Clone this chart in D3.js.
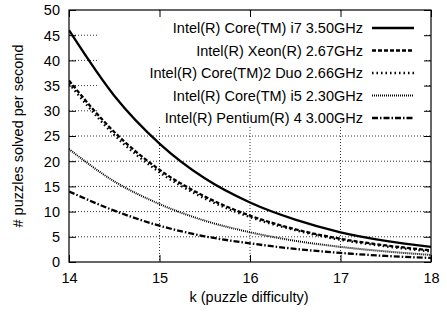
<!DOCTYPE html>
<html>
<head>
<meta charset="utf-8">
<script src="https://cdn.jsdelivr.net/npm/d3@7"></script>
<style>
  html, body { margin: 0; padding: 0; background: #fff; }
  svg { display: block; }
  text { font-family: "Liberation Sans", Arial, Helvetica, sans-serif; fill: #000; }
</style>
</head>
<body>
<svg id="chart" width="447" height="312"></svg>
<script>
// ---- data ----
const kValues = [14, 14.5, 15, 15.5, 16, 16.5, 17, 17.5, 18];
const seriesNames = [
  "Intel(R) Core(TM) i7 3.50GHz",
  "Intel(R) Xeon(R) 2.67GHz",
  "Intel(R) Core(TM)2 Duo 2.66GHz",
  "Intel(R) Core(TM) i5 2.30GHz",
  "Intel(R) Pentium(R) 4 3.00GHz"
];
const i7Values      = [46.0, 33.0, 23.5, 16.6, 11.8, 8.4, 5.9, 4.2, 3.0];
const xeonValues    = [36.0, 25.8, 18.3, 13.0, 9.2, 6.5, 4.6, 3.3, 2.3];
const core2Values   = [35.4, 25.2, 17.8, 12.6, 8.9, 6.3, 4.4, 3.1, 2.1];
const i5Values      = [22.4, 16.0, 11.5, 8.2, 5.9, 4.2, 3.0, 2.1, 1.4];
const pentiumValues = [14.0, 10.2, 7.2, 5.1, 3.7, 2.6, 1.8, 1.2, 0.8];
const xTicks = [14, 15, 16, 17, 18];
const yTicks = [0, 5, 10, 15, 20, 25, 30, 35, 40, 45, 50];
const xLabel = "k (puzzle difficulty)";
const yLabel = "# puzzles solved per second";

// ---- styles ----
const seriesValues = [i7Values, xeonValues, core2Values, i5Values, pentiumValues];
const dashes = [null, "4,2", "1.5,3", "1,1", "6,2,1.5,2"];
const widths = [2.3, 2.3, 2.3, 2.0, 2.3];
const FS = "14.5px";

const svg = d3.select("#chart");
const L = 69, R = 431, T = 10, B = 262;

const x = d3.scaleLinear().domain([14, 18]).range([L, R]);
const y = d3.scaleLinear().domain([0, 50]).range([B, T]);

// grid
const grid = svg.append("g");
grid.selectAll("line.gy").data(yTicks.filter(d => d > 0 && d < 50)).enter().append("line")
  .attr("x1", L).attr("x2", R).attr("y1", d => y(d)).attr("y2", d => y(d))
  .attr("stroke", "#000").attr("stroke-width", 0.8).attr("stroke-dasharray", "1,2");
grid.selectAll("line.gx").data(xTicks.filter(d => d > 14 && d < 18)).enter().append("line")
  .attr("x1", d => x(d)).attr("x2", d => x(d)).attr("y1", T).attr("y2", B)
  .attr("stroke", "#000").attr("stroke-width", 0.8).attr("stroke-dasharray", "1,2");

// legend background (opaque key)
svg.append("rect").attr("x", 99).attr("y", T + 1).attr("width", 325).attr("height", 115)
  .attr("fill", "#fff");

// curves
const line = d3.line().x((d, i) => x(kValues[i])).y(d => y(d)).curve(d3.curveMonotoneX);
svg.append("clipPath").attr("id", "clip").append("rect")
  .attr("x", L).attr("y", T).attr("width", R - L).attr("height", B - T);
seriesValues.forEach((vals, i) => {
  svg.append("path").datum(vals)
    .attr("d", line)
    .attr("fill", "none")
    .attr("stroke", "#000")
    .attr("stroke-width", widths[i])
    .attr("stroke-dasharray", dashes[i])
    .attr("clip-path", "url(#clip)");
});

// axes
const fmt = d3.format("d");
const axL = svg.append("g").attr("transform", `translate(${L},0)`)
  .call(d3.axisLeft(y).tickValues(yTicks).tickSize(-7).tickFormat(fmt));
const axB = svg.append("g").attr("transform", `translate(0,${B})`)
  .call(d3.axisBottom(x).tickValues(xTicks).tickSize(-7).tickFormat(fmt));
const axR = svg.append("g").attr("transform", `translate(${R},0)`)
  .call(d3.axisRight(y).tickValues(yTicks).tickSize(-7).tickFormat(""));
const axT = svg.append("g").attr("transform", `translate(0,${T})`)
  .call(d3.axisTop(x).tickValues(xTicks).tickSize(-7).tickFormat(""));
[axL, axB, axR, axT].forEach(a => {
  a.select(".domain").remove();
  a.selectAll(".tick line").attr("stroke", "#000").attr("stroke-width", 1);
  a.selectAll("text").style("font-family", '"Liberation Sans", Arial, sans-serif').style("font-size", FS).attr("fill", "#000");
});
axL.selectAll("text").attr("x", -9).attr("dy", "0.34em");
axB.selectAll("text").attr("y", 21).attr("dy", "0");

// border
svg.append("rect").attr("x", L).attr("y", T).attr("width", R - L).attr("height", B - T)
  .attr("fill", "none").attr("stroke", "#000").attr("stroke-width", 1.2);

// axis labels
svg.append("text").attr("x", 249).attr("y", 302)
  .attr("text-anchor", "middle").style("font-size", FS).text(xLabel);
svg.append("text").attr("transform", `translate(23,${(T + B) / 2}) rotate(-90)`)
  .attr("text-anchor", "middle").style("font-size", FS).text(yLabel);

// legend
const legY = [28, 50.5, 73, 95.5, 118];
seriesNames.forEach((name, i) => {
  svg.append("text").attr("x", 363).attr("y", legY[i]).attr("dy", "0.35em")
    .attr("text-anchor", "end").style("font-size", FS).text(name);
  svg.append("line").attr("x1", 372).attr("x2", 414).attr("y1", legY[i]).attr("y2", legY[i])
    .attr("stroke", "#000").attr("stroke-width", widths[i]).attr("stroke-dasharray", dashes[i]);
});
</script>
</body>
</html>
